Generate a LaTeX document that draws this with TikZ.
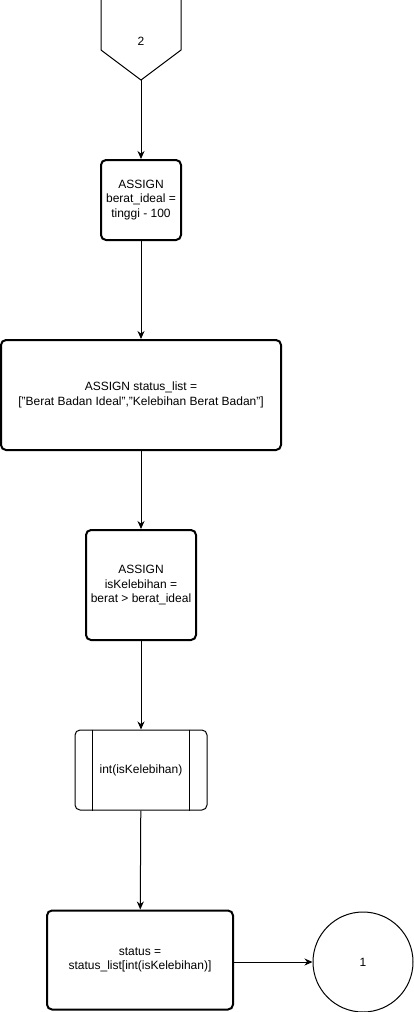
\documentclass[tikz,border=0pt]{standalone}
\usepackage{fontspec}
\setmainfont{Liberation Sans}
\usetikzlibrary{arrows.meta}
\tikzset{%
  assignbox/.style = {shape=rectangle, rounded corners=5pt, draw,%
                      line width=2pt, align=center, inner sep=0pt},%
  procbox/.style   = {shape=rectangle, rounded corners=5pt, draw,%
                      line width=1pt, align=center, inner sep=0pt},%
  pageref/.style   = {circle, draw, line width=1pt, inner sep=0pt,%
                      minimum size=100pt},%
  flow/.style      = {draw, line width=1pt, -{Stealth[length=8pt,width=7pt]}}%
}

\begin{document}
\begin{tikzpicture}[x=1pt, y=-1pt, every node/.style = {font=\fontsize{12}{14.5}\selectfont}]
  \useasboundingbox (0,0) rectangle (414,1012);
  % off-page connector at the top
  \draw[line width=1pt] (101,-2) -- (101,50) -- (141,80) -- (181,50) -- (181,-2);
  \coordinate (tip) at (141,80);
  \node (two) at (141,41) {2};
  \node[assignbox, minimum width=80pt, minimum height=80pt] (ideal) at (141,200)
    {ASSIGN\\berat\_ideal =\\tinggi - 100};
  \node[assignbox, minimum width=280pt, minimum height=110pt] (list) at (141,395)
    {ASSIGN status\_list =\\{}["Berat Badan Ideal","Kelebihan Berat Badan"]};
  \node[assignbox, minimum width=110pt, minimum height=110pt] (lebih) at (141,585)
    {ASSIGN\\isKelebihan =\\berat > berat\_ideal};
  \node[procbox, minimum width=132pt, minimum height=80pt] (conv) at (141,770)
    {int(isKelebihan)};
  \draw[line width=1pt] ([xshift=18pt]conv.north west) -- ([xshift=18pt]conv.south west);
  \draw[line width=1pt] ([xshift=-18pt]conv.north east) -- ([xshift=-18pt]conv.south east);
  \node[assignbox, minimum width=186pt, minimum height=99pt] (status) at (140,960)
    {status =\\status\_list[int(isKelebihan)]};
  \node[pageref] (one) at (363,962) {1};
  % connectors
  \draw[flow] (tip) -- (ideal);
  \draw[flow] (ideal) -- (list);
  \draw[flow] (list) -- (lebih);
  \draw[flow] (lebih) -- (conv);
  \draw[flow] (conv) -- (status);
  \draw[flow] (status.east |- one) -- (one);
\end{tikzpicture}
\end{document}
